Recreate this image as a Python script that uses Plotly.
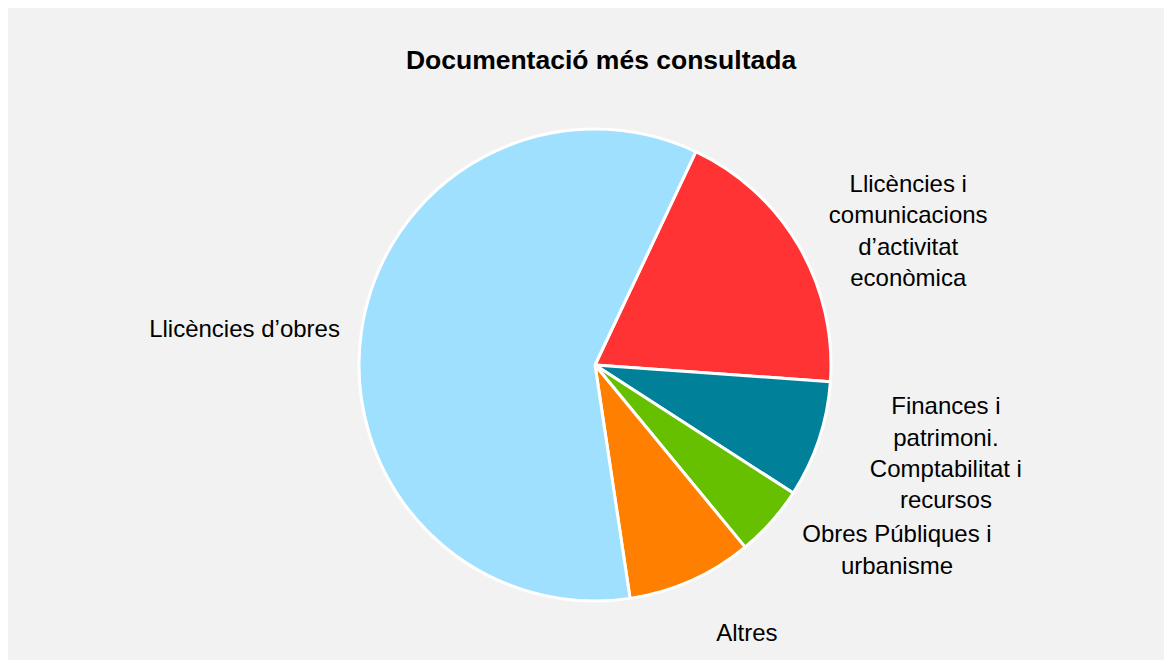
import plotly.graph_objects as go

labels = [
    "Llicències i<br>comunicacions<br>d’activitat<br>econòmica",
    "Finances i<br>patrimoni.<br>Comptabilitat i<br>recursos",
    "Obres Públiques i<br>urbanisme",
    "Altres",
    "Llicències d’obres",
]
values = [19.1, 8.0, 4.9, 8.6, 59.4]
colors = ["#FF3333", "#008099", "#66C000", "#FF8000", "#A0E0FF"]

W, H = 1172, 660
cx, cy, r = 587, 357, 236   # pie centre / radius in figure pixels

# extra outward offset (px) of each outside label beyond the pie rim
label_gap = [0, 22, 22, 45, 15]

FONT = "Liberation Sans, Arial, sans-serif"


def dom(rad):
    return dict(x=[(cx - rad) / W, (cx + rad) / W],
                y=[(H - cy - rad) / H, (H - cy + rad) / H])


max_gap = max(label_gap)
label_pull = [g / r for g in label_gap]
R_twin = r + max_gap   # plotly shrinks radius by (1 + max pull) -> effective radius r

fig = go.Figure()
# visible pie
fig.add_trace(go.Pie(
    labels=labels, values=values, sort=False, direction="clockwise", rotation=25.3,
    marker=dict(colors=colors, line=dict(color="white", width=3)),
    textinfo="none", showlegend=False, domain=dom(r),
))
# transparent twin pie that only carries the outside labels
fig.add_trace(go.Pie(
    labels=labels, values=values, sort=False, direction="clockwise", rotation=25.3,
    pull=label_pull,
    marker=dict(colors=["rgba(0,0,0,0)"] * len(values), line=dict(width=0)),
    textinfo="label", textposition="outside",
    outsidetextfont=dict(family=FONT, size=24, color="black"),
    hoverinfo="skip", showlegend=False, domain=dom(R_twin),
))

fig.update_layout(
    width=W, height=H,
    margin=dict(l=0, r=0, t=0, b=0, autoexpand=False),
    paper_bgcolor="#F2F2F2",
    title=dict(
        text="<b>Documentació més consultada</b>",
        x=593 / W, xanchor="center", y=1 - 52 / H, yanchor="middle",
        font=dict(family=FONT, size=26.5, color="black"),
    ),
)

fig.write_html("out.html")
